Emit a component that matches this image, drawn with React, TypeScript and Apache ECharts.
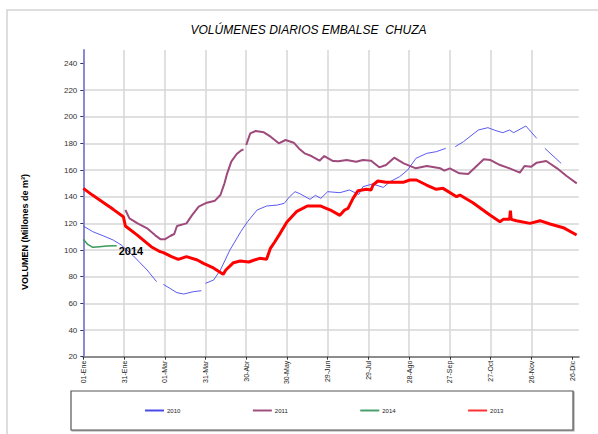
import React, { useEffect, useRef } from "react";
import * as echarts from "echarts";

const TITLE = "VOLÚMENES DIARIOS EMBALSE  CHUZA";
const Y_NAME = "VOLUMEN (Millones de m³)";
const tickDays = [0, 30, 60, 90, 120, 150, 180, 210, 240, 270, 300, 330, 360];
const tickLabels = ["01-Ene", "31-Ene", "01-Mar", "31-Mar", "30-Abr", "30-May", "29-Jun", "29-Jul", "28-Ago", "27-Sep", "27-Oct", "26-Nov", "26-Dic"];
const yTicks = [20, 40, 60, 80, 100, 120, 140, 160, 180, 200, 220, 240];
const seriesNames = ["2010", "2011", "2014", "2013"];

const days2010 = [0, 7, 15, 22, 28, 37, 47, 54, 56, 59, 69, 74, 81, 87, 88.5, 90, 96, 101, 108, 116, 121, 128, 135, 143, 148, 152, 156, 160, 167, 171, 175, 180, 189, 196, 203, 206, 213, 221, 226, 233, 239, 245, 253, 260, 267, 270, 274, 280, 291, 298, 304, 309, 314, 317, 326, 334, 337, 340, 352];
const vol2010 = [118, 113.75, 110.5, 107.5, 103.75, 95.5, 85, 76.25, null, 74.25, 68, 67, 68.75, 69.5, null, 75, 77.5, 85, 100, 113.75, 121.25, 130, 133, 133.75, 135, 140, 143.75, 142, 138, 141, 138.75, 143.75, 143, 145, 141.75, 147.5, 149.5, 147, 151.25, 155, 160, 168.75, 172.5, 173.75, 176.25, null, 177.5, 181.25, 190, 191.75, 189.5, 188, 190, 188, 193, 183.75, null, 176.25, 165];

const days2011 = [31, 34, 40, 47, 53, 57, 60, 64, 67, 69, 76, 80, 85, 91, 97, 101, 104, 106, 109, 113, 116, 118, 119, 120, 123, 127, 133, 138, 144, 149, 155, 159, 163, 168, 174, 177.5, 184, 188, 194, 201, 206, 212, 218, 223, 229, 236, 245, 253, 263, 266, 270, 277, 283.5, 288, 295, 300, 307, 314, 321.6, 325, 330, 334, 341, 349, 356, 363.5];
const vol2011 = [130, 123.75, 120, 116.25, 111, 108, 108, 110.5, 112, 118, 120, 126, 132.5, 135.5, 137, 141.25, 150, 157.5, 166.25, 172, 174.5, 175.5, null, 178.75, 187.5, 189.25, 188.25, 185, 180, 182.5, 180.5, 176, 172.5, 170.5, 167, 170.5, 166.75, 166.5, 167.5, 166.25, 167.5, 167, 162, 163.75, 169.25, 165, 161.25, 163, 161.25, 159.5, 161.25, 157.5, 157, 161.25, 168, 167.5, 163.75, 161.25, 158, 163, 162.5, 165.5, 166.75, 161.25, 155.5, 150];

const days2014 = [0, 3, 7, 12, 17, 24.6];
const vol2014 = [108, 104.5, 102, 102.5, 103, 103.25];

const days2013 = [0, 7, 15, 22, 29.5, 31, 40, 50, 56.6, 59, 65, 70, 76, 84, 88.5, 95, 103, 105, 110.6, 115.6, 122, 126, 130, 135, 137.7, 141, 145, 150, 157, 165, 175, 182, 189, 192.5, 195, 198.7, 202.4, 208.5, 212, 213.4, 217, 223, 235.6, 240.5, 245.4, 252.8, 260, 265, 275, 277.4, 287, 299.5, 306.9, 309.3, 314, 314.6, 315.2, 319, 329, 336.4, 343.8, 353.6, 363.4];
const vol2013 = [146.25, 141, 135.5, 130.5, 125, 118, 111, 102.5, 98.75, 98, 95, 93, 95, 92.5, 90, 87, 81.75, 85, 90.5, 91.75, 91, 92.5, 93.75, 93, 101, 106, 112.5, 121, 128.75, 133, 133, 130, 126, 130, 131.25, 138.75, 144.5, 145.5, 145, 148.75, 151.75, 150.75, 150.75, 152.5, 152.5, 148.75, 145.5, 146.25, 140, 141.25, 135.5, 126.25, 121.25, 123, 123, 129.5, 123, 122, 120, 122, 119.5, 116.75, 111.25];

const FONT = 'Arial, "Liberation Sans", sans-serif';

function pairs(days: number[], vals: (number | null)[]) {
  return days.map((d, i) => [d, vals[i] === null ? "-" : vals[i]]);
}

export default function App() {
  const ref = useRef<HTMLDivElement>(null);
  useEffect(() => {
    if (!ref.current) return;
    const chart = echarts.init(ref.current, undefined, { renderer: "svg" });
    const gridLine = { color: "#d6d6d6", width: 1.5 };
    chart.setOption({
      animation: false,
      backgroundColor: "#ffffff",
      textStyle: { fontFamily: FONT },
      graphic: [
        {
          type: "rect",
          shape: { x: 7, y: 10, width: 620, height: 450 },
          style: { fill: "none", stroke: "#d4d4d4", lineWidth: 1.5 },
          silent: true,
          z: -10,
        },
        {
          type: "text",
          x: 308.5,
          y: 30,
          style: {
            text: TITLE,
            fontSize: 12,
            fontStyle: "italic",
            fontFamily: FONT,
            fill: "#000",
            align: "center",
            verticalAlign: "middle",
          },
        },
        {
          type: "text",
          x: 25,
          y: 232,
          rotation: Math.PI / 2,
          style: {
            text: Y_NAME,
            fontSize: 9,
            fontWeight: "bold",
            fontFamily: FONT,
            fill: "#000",
            align: "center",
            verticalAlign: "middle",
          },
        },
        {
          type: "rect",
          shape: { x: 71, y: 391, width: 502, height: 39 },
          style: {
            fill: "#fff",
            stroke: "#555",
            lineWidth: 1.2,
            shadowColor: "rgba(0,0,0,0.35)",
            shadowOffsetX: 1,
            shadowOffsetY: 1,
            shadowBlur: 0,
          },
          z: -5,
        },
      ],
      legend: {
        data: seriesNames,
        icon: "rect",
        left: 145,
        top: 407.5,
        padding: 0,
        itemWidth: 19,
        itemHeight: 2,
        itemGap: 72.5,
        textStyle: { fontSize: 6, color: "#222", fontFamily: FONT, padding: [0, 0, 0, -2] },
      },
      grid: { left: 83.3, right: 19.2, top: 50, bottom: 77.3 },
      xAxis: {
        type: "value",
        min: 0,
        max: 365,
        interval: 30,
        axisLine: { show: true, lineStyle: { color: "#8c8c8c", width: 2 } },
        axisTick: { show: true, length: 3, lineStyle: { color: "#333" }, customValues: tickDays },
        axisLabel: {
          rotate: 90,
          fontSize: 7,
          color: "#222",
          margin: 4,
          customValues: tickDays,
          formatter: (v: number) => {
            const i = tickDays.indexOf(Math.round(v));
            return i >= 0 ? tickLabels[i] : "";
          },
        },
        splitLine: { show: true, lineStyle: gridLine, showMinLine: false, showMaxLine: false },
      },
      yAxis: {
        type: "value",
        min: 20,
        max: 250,
        interval: 20,
        axisLine: { show: true, lineStyle: { color: "#8a8ad0", width: 2 } },
        axisTick: { show: true, length: 3, lineStyle: { color: "#303070" }, customValues: yTicks },
        axisLabel: { fontSize: 8, color: "#333", margin: 6, customValues: yTicks },
        splitLine: { show: true, lineStyle: gridLine, showMinLine: false, showMaxLine: false },
      },
      series: [
        {
          name: "2010",
          type: "line",
          symbol: "none",
          data: pairs(days2010, vol2010),
          lineStyle: { color: "#5a5af0", width: 1 },
          itemStyle: { color: "#4a4ae8" },
          z: 2,
        },
        {
          name: "2011",
          type: "line",
          symbol: "none",
          data: pairs(days2011, vol2011),
          lineStyle: { color: "#9e4a7c", width: 2 },
          itemStyle: { color: "#a0507e" },
          z: 3,
        },
        {
          name: "2014",
          type: "line",
          symbol: "none",
          data: pairs(days2014, vol2014),
          lineStyle: { color: "#3a9a5c", width: 1.5 },
          itemStyle: { color: "#4aa06c" },
          endLabel: {
            show: true,
            formatter: "2014",
            fontSize: 11,
            fontWeight: "bold",
            color: "#000",
            distance: 2,
            offset: [0, 5],
          },
          z: 4,
        },
        {
          name: "2013",
          type: "line",
          symbol: "none",
          data: pairs(days2013, vol2013),
          lineStyle: { color: "#ff0000", width: 3 },
          itemStyle: { color: "#ff3030" },
          z: 5,
        },
      ],
    });
    return () => chart.dispose();
  }, []);
  return (
    <div
      ref={ref}
      style={{ position: "fixed", left: 0, top: 0, width: 598, height: 434 }}
    />
  );
}
